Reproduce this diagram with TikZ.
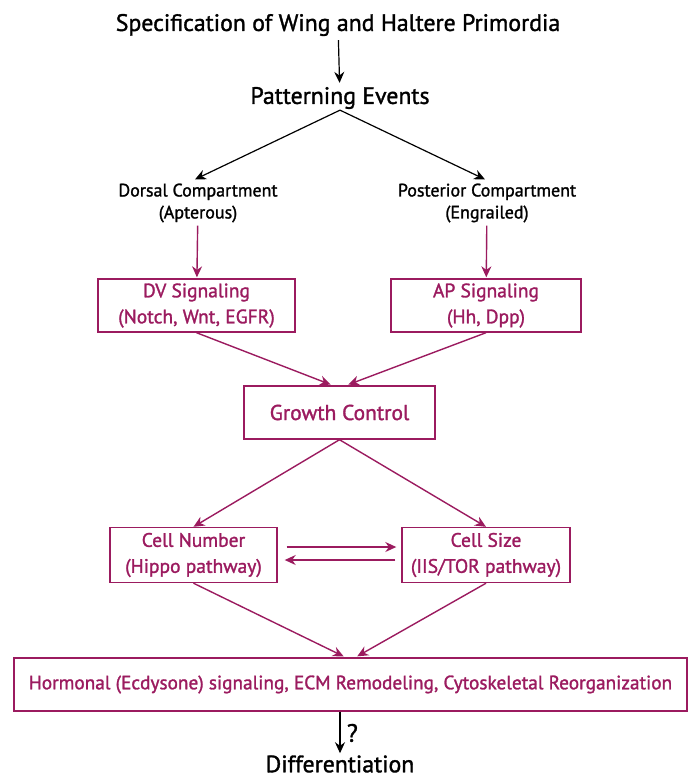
\documentclass[tikz,border=0pt]{standalone}
\usepackage{fontspec}
\setmainfont{PT Sans}[FakeBold=1.4]
\usetikzlibrary{arrows.meta}
\definecolor{flymag}{RGB}{155,27,95}

\begin{document}
\begin{tikzpicture}
	[x=1pt, y=-1pt,
	plain/.style={font=\fontsize{18}{22}\selectfont, align=center, inner sep=1pt},
	big/.style={font=\fontsize{23.8}{26}\selectfont, inner sep=1pt},
	box/.style={draw=flymag, line width=1.4pt, text=flymag, align=center,
		font=\fontsize{19.5}{26}\selectfont, inner sep=2pt},
	blk/.style={-{Stealth[length=11pt,width=10pt]}, line width=1.2pt},
	mag/.style={-{Stealth[length=11pt,width=10pt]}, draw=flymag, line width=1.4pt}]
	\useasboundingbox (0,0) rectangle (696,780);
	% top of the cascade
	\node[big] (spec) at (338,25) {Specification of Wing and Haltere Primordia};
	\node[big] (pattern) at (340,98) {Patterning Events};
	\node[plain] (dorsal) at (198,203) {Dorsal Compartment\\(Apterous)};
	\node[plain] (posterior) at (487,203) {Posterior Compartment\\(Engrailed)};
	% signaling boxes
	\node[box, minimum width=197pt, minimum height=53pt] (dv) at (196.5,305.5)
		{DV Signaling\\(Notch, Wnt, EGFR)};
	\node[box, minimum width=190pt, minimum height=53pt] (ap) at (486,305.5)
		{AP Signaling\\(Hh, Dpp)};
	\node[box, minimum width=191pt, minimum height=53pt, font=\fontsize{21.5}{24}\selectfont] (growth) at (339.5,412.5)
		{Growth Control};
	\node[box, minimum width=167pt, minimum height=55pt] (cellnum) at (193.5,555)
		{Cell Number\\(Hippo pathway)};
	\node[box, minimum width=168pt, minimum height=55pt] (cellsize) at (486,555)
		{Cell Size\\(IIS/TOR pathway)};
	\node[box, minimum width=673pt, minimum height=53pt, font=\fontsize{19.3}{22}\selectfont] (hormone) at (350.5,684.5)
		{Hormonal (Ecdysone) signaling, ECM Remodeling, Cytoskeletal Reorganization};
	\node[big] (diff) at (340,764) {Differentiation};
	% connectors
	\draw[blk, shorten <=3pt, shorten >=3pt] (spec) -- (pattern);
	\draw[blk] (pattern.south) -- ([xshift=-3pt,yshift=3pt]dorsal.north);
	\draw[blk] (pattern.south) -- ([xshift=-2pt,yshift=3pt]posterior.north);
	\draw[mag, shorten <=2pt, shorten >=1pt] (dorsal) -- (dv);
	\draw[mag, shorten <=2pt, shorten >=1pt] (posterior) -- (ap);
	\draw[mag, shorten >=2pt] (dv.south) -- ([xshift=-7pt]growth.north);
	\draw[mag, shorten >=2pt] (ap.south) -- ([xshift=7pt]growth.north);
	\draw[mag] (growth.south) -- (cellnum.north);
	\draw[mag] (growth.south) -- (cellsize.north);
	\draw[mag, shorten <=9pt, shorten >=5pt] ([yshift=8pt]cellnum.east) -- ([yshift=8pt]cellsize.west);
	\draw[mag, shorten <=6pt, shorten >=7pt] ([yshift=-5pt]cellsize.west) -- ([yshift=-5pt]cellnum.east);
	\draw[mag, shorten >=2pt] (cellnum.south) -- ([xshift=-5pt]hormone.north);
	\draw[mag, shorten >=2pt] (cellsize.south) -- ([xshift=5pt]hormone.north);
	\draw[blk, shorten >=1pt] (hormone.south -| diff) -- node[right, font=\fontsize{25}{26}\selectfont, xshift=3pt] (qmark) {?} (diff);
\end{tikzpicture}
\end{document}
